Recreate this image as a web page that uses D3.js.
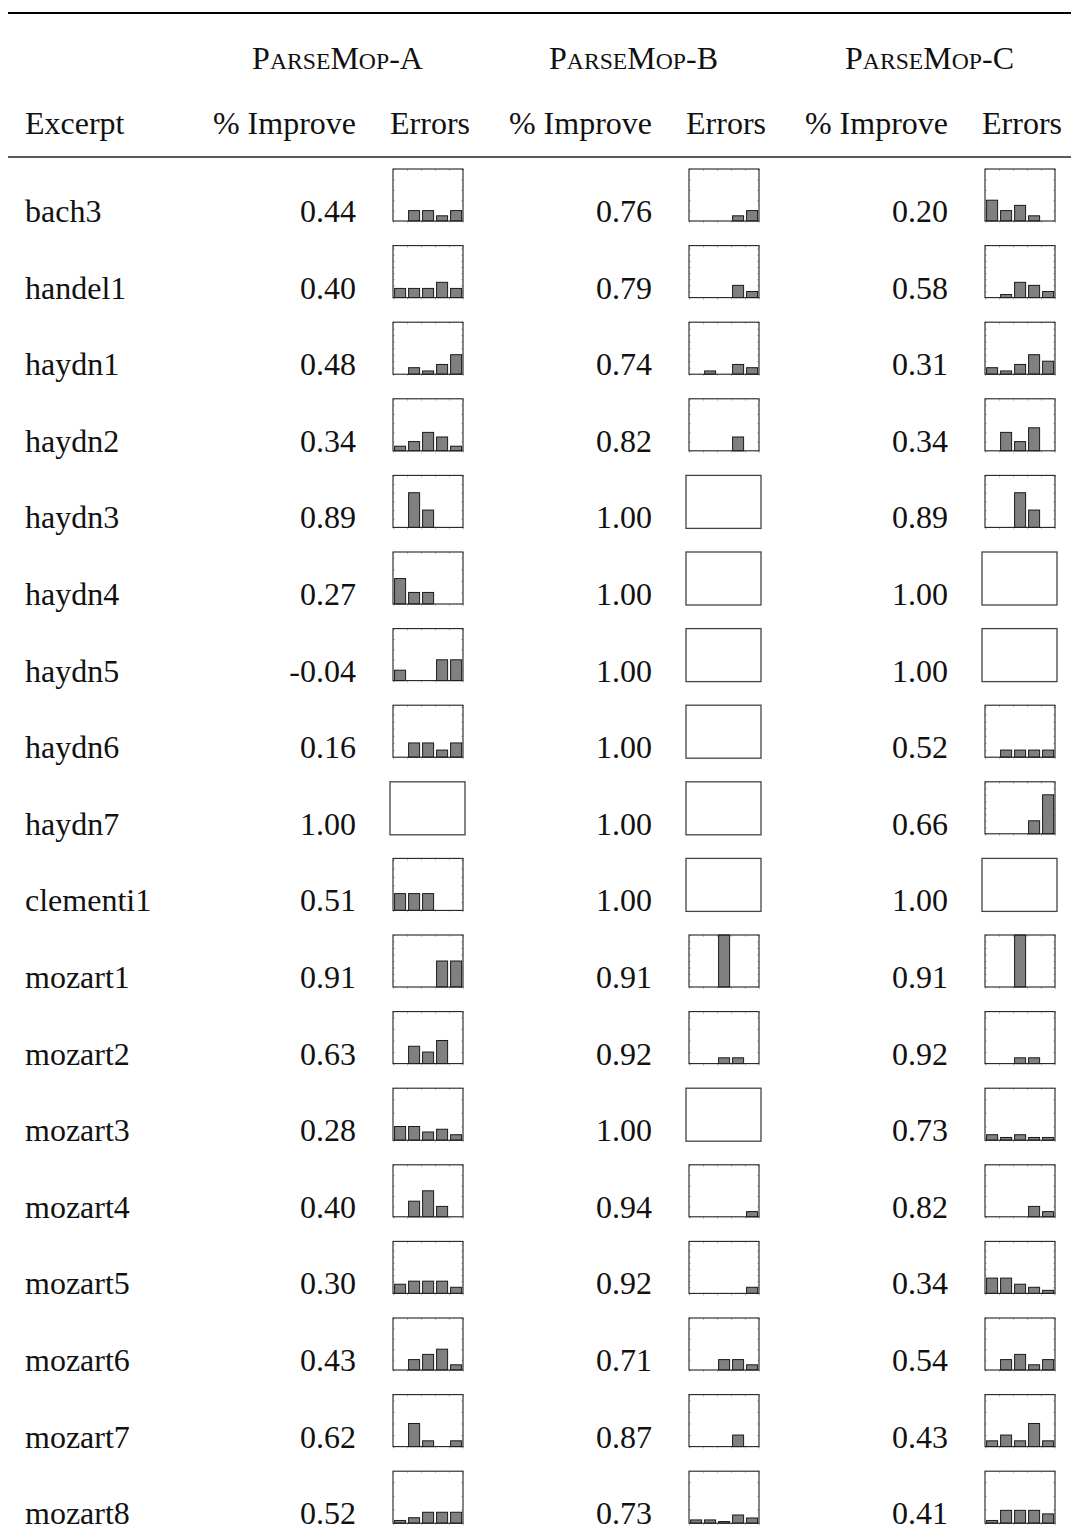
<!DOCTYPE html>
<html>
<head>
<meta charset="utf-8">
<script src="https://cdn.jsdelivr.net/npm/d3@7"></script>
<style>
  body { margin: 0; background: #fff; }
  svg { display: block; }
  text { font-family: "Liberation Serif", "Times New Roman", serif; fill: #111; }
</style>
</head>
<body>
<svg id="chart" width="1071" height="1533"></svg>
<script>
// ---- data ----
const excerpts = ["bach3","handel1","haydn1","haydn2","haydn3","haydn4","haydn5","haydn6","haydn7",
  "clementi1","mozart1","mozart2","mozart3","mozart4","mozart5","mozart6","mozart7","mozart8"];
const models = ["ParseMop-A","ParseMop-B","ParseMop-C"];
const subHeaders = ["% Improve","Errors"];
const firstHeader = "Excerpt";

const improveA = [0.44,0.40,0.48,0.34,0.89,0.27,-0.04,0.16,1.00,0.51,0.91,0.63,0.28,0.40,0.30,0.43,0.62,0.52];
const improveB = [0.76,0.79,0.74,0.82,1.00,1.00,1.00,1.00,1.00,1.00,0.91,0.92,1.00,0.94,0.92,0.71,0.87,0.73];
const improveC = [0.20,0.58,0.31,0.34,0.89,1.00,1.00,0.52,0.66,1.00,0.91,0.92,0.73,0.82,0.34,0.54,0.43,0.41];

// error counts in five bins per excerpt; null = no errors left
const errorsA = [
  [0,2,2,1,2],[3,3,3,5,3],[0,2,1,3,6],[1,2,4,3,1],[0,4,2,0,0],[4.4,2,2,0,0],
  [1,0,0,2,2],[0,2,2,1,2],null,[2,2,2,0,0],[0,0,0,2,2],[0,3,2,4,0],
  [5,5,3,4,2],[0,3,5,2,0],[3,4,4,4,2],[0,2,3,4,1],[0,4,1,0,1],[1,2,4,4,4]
];
const errorsB = [
  [0,0,0,1,2],[0,0,0,4,2],[0,1,0,3,2],[0,0,0,3,0],null,null,
  null,null,null,null,[0,0,4,0,0],[0,0,1,1,0],
  null,[0,0,0,0,1],[0,0,0,0,2],[0,0,2,2,1],[0,0,0,2,0],[1.2,1.2,0.6,3,1.9]
];
const errorsC = [
  [4,2,3,1,0],[0,1,5,4,2],[2,1,3,6,4],[0,4,2,5,0],[0,0,4,2,0],null,
  null,[0,1,1,1,1],[0,0,0,2,6],null,[0,0,4,0,0],[0,0,1,1,0],
  [2,1,2,1,1],[0,0,0,2,1],[5,5,3,2,1],[0,2,3,1,2],[1,2,1,4,1],[1,4.7,4.7,4.7,3.4]
];
// shared y-axis maximum of the three error histograms in each row
const errorMax = [10,17,16,11.3,6,9,5,7.3,8,6.2,4,9,19,10,17,10,9,19];

// ---- layout ----
const W = 1071, H = 1533;
const FS = 32;
const excerptX = 25;
const impRight = [356, 652, 948];
const boxX = [393, 689, 985];
const boxW = 70, boxH = 52;
const fmt = d3.formatLocale({decimal: ".", thousands: ",", grouping: [3], currency: ["", ""], minus: "-"}).format(".2f");

const svg = d3.select("#chart");
svg.append("rect").attr("width", W).attr("height", H).attr("fill", "#fff");

const rowY = d3.scaleLinear().domain([0, excerpts.length - 1]).range([169, 169 + 17 * 76.6]);

// rules
svg.append("line").attr("x1", 8).attr("x2", W).attr("y1", 13).attr("y2", 13)
  .attr("stroke", "#000").attr("stroke-width", 2.2);
svg.append("line").attr("x1", 8).attr("x2", W).attr("y1", 157).attr("y2", 157)
  .attr("stroke", "#222").attr("stroke-width", 1.4);

// small-caps model names
function smallCaps(sel, str, size) {
  const parts = [];
  for (const ch of str) {
    const small = ch >= "a" && ch <= "z";
    const last = parts[parts.length - 1];
    if (last && last.small === small) last.t += ch; else parts.push({t: ch, small});
  }
  sel.selectAll("tspan").data(parts).join("tspan")
    .attr("font-size", d => d.small ? size * 0.74 : size)
    .text(d => d.small ? d.t.toUpperCase() : d.t);
}

models.forEach((m, k) => {
  const left = impRight[k] - 147, right = boxX[k] + boxW / 2 + 42;
  svg.append("text").attr("x", (left + right) / 2 - 2).attr("y", 69)
    .attr("text-anchor", "middle").call(smallCaps, m, FS);
  svg.append("text").attr("x", impRight[k]).attr("y", 134).attr("text-anchor", "end")
    .attr("font-size", FS).text(subHeaders[0]);
  svg.append("text").attr("x", boxX[k] + boxW / 2 + 2).attr("y", 134).attr("text-anchor", "middle")
    .attr("font-size", FS).text(subHeaders[1]);
});
svg.append("text").attr("x", excerptX).attr("y", 134).attr("font-size", FS).text(firstHeader);

// rows
const improve = [improveA, improveB, improveC];
const errors = [errorsA, errorsB, errorsC];
const x = d3.scaleLinear().domain([0, 5]).range([0, boxW]);

excerpts.forEach((name, i) => {
  const top = rowY(i);
  const base = top + 53;
  svg.append("text").attr("x", excerptX).attr("y", base).attr("font-size", FS).text(name);
  const y = d3.scaleLinear().domain([0, errorMax[i]]).range([boxH, 0]);

  for (let k = 0; k < 3; k++) {
    svg.append("text").attr("x", impRight[k]).attr("y", base).attr("text-anchor", "end")
      .attr("font-size", FS).text(fmt(improve[k][i]));

    const g = svg.append("g").attr("transform", `translate(${boxX[k]},${top})`);
    const vals = errors[k][i];
    if (!vals) {
      g.append("rect").attr("x", -3).attr("y", 0).attr("width", boxW + 5).attr("height", boxH + 1)
        .attr("fill", "none").attr("stroke", "#444").attr("stroke-width", 1.3);
      continue;
    }
    const tickStyle = a => a.call(s => s.select(".domain").remove())
      .call(s => s.selectAll("line").attr("stroke", "#999").attr("stroke-width", 0.6));
    g.append("g").call(d3.axisLeft(y).ticks(6).tickSize(-2).tickFormat("")).call(tickStyle);
    g.append("g").attr("transform", `translate(${boxW},0)`)
      .call(d3.axisRight(y).ticks(6).tickSize(-2).tickFormat("")).call(tickStyle);
    g.append("g").call(d3.axisTop(x).ticks(5).tickSize(-2).tickFormat("")).call(tickStyle);
    g.append("g").attr("transform", `translate(0,${boxH})`)
      .call(d3.axisBottom(x).ticks(5).tickSize(2).tickFormat("")).call(tickStyle);

    g.selectAll("rect.bar").data(vals.map((v, b) => ({v, b})).filter(d => d.v > 0)).join("rect")
      .attr("class", "bar")
      .attr("x", d => x(d.b) + 1.6)
      .attr("width", x(1) - x(0) - 3)
      .attr("y", d => y(d.v))
      .attr("height", d => boxH - y(d.v))
      .attr("fill", "#808080").attr("stroke", "#1a1a1a").attr("stroke-width", 1);

    g.append("rect").attr("width", boxW).attr("height", boxH)
      .attr("fill", "none").attr("stroke", "#222").attr("stroke-width", 1.1);
  }
});
</script>
</body>
</html>
